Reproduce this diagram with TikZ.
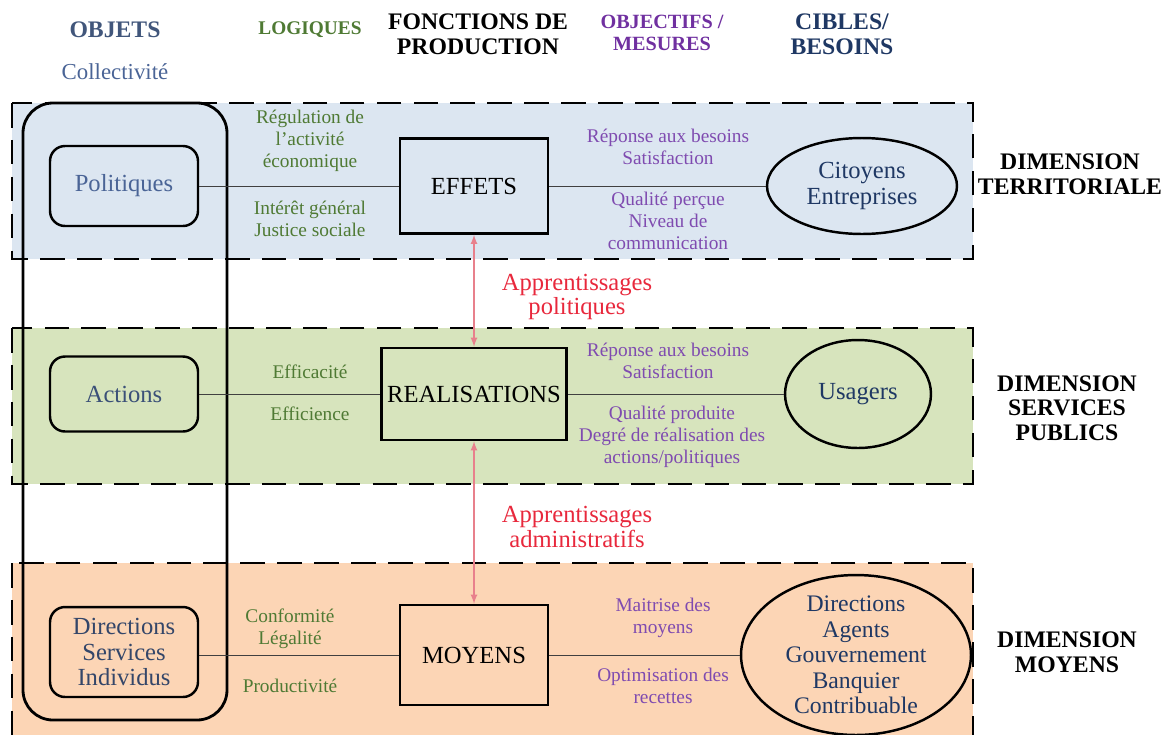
\documentclass[tikz,border=0pt]{standalone}
\usepackage{fontspec}
\setmainfont{Liberation Serif}
\usepackage{xcolor}
\usetikzlibrary{arrows}
\usetikzlibrary{positioning}
\usetikzlibrary{shapes.geometric}

\definecolor{bleuFond}{HTML}{DCE6F1}
\definecolor{vertFond}{HTML}{D7E4BD}
\definecolor{orangeFond}{HTML}{FCD5B5}
\definecolor{bleuTitre}{HTML}{1F3864}
\definecolor{bleuObjet}{HTML}{4A6496}
\definecolor{vertTexte}{HTML}{4F7A34}
\definecolor{violetTexte}{HTML}{7F4BB0}
\definecolor{violetTitre}{HTML}{7030A0}
\definecolor{rougeTexte}{HTML}{E8283C}
\definecolor{roseFleche}{HTML}{E8808C}

\begin{document}
\begin{tikzpicture}
[
	x = 0.02cm, y = -0.02cm,
	band/.style	= {dash pattern = on 14pt off 7pt, line width = 1.6pt},
	objet/.style	= {draw, rounded corners = 0.3cm, line width = 1.4pt, minimum width = 2.96cm, align = center, text = bleuObjet, font = \fontsize{14}{14.5}\selectfont},
	fonction/.style	= {draw, line width = 1.4pt, minimum width = 2.96cm, minimum height = 1.9cm, font = \fontsize{14}{14}\selectfont},
	cible/.style	= {ellipse, draw, line width = 1.4pt, inner sep = 0pt, align = center, text = bleuTitre, font = \fontsize{14}{14.5}\selectfont},
	logique/.style	= {align = center, text = vertTexte, font = \fontsize{11}{12.5}\selectfont},
	mesure/.style	= {logique, text = violetTexte},
	titre/.style	= {align = center, font = \bfseries\fontsize{13.5}{14}\selectfont},
	appr/.style	= {align = center, text = rougeTexte, font = \fontsize{14}{12.5}\selectfont},
	lien/.style	= {thin, black!75},
	fleche/.style	= {latex-latex, roseFleche, line width = 0.8pt},
]

	\useasboundingbox (0,0) rectangle (1168,734);
	\clip (0,0) rectangle (1168,734);

	% bandes
	\fill [bleuFond] (12,103) rectangle (973,259);
	\draw [band] (12,103) rectangle (973,259);
	\fill [vertFond] (12,328) rectangle (973,484);
	\draw [band] (12,328) rectangle (973,484);
	\fill [orangeFond] (12,563) rectangle (973,780);
	\draw [band] (12,563) rectangle (973,780);

	\draw [line width = 1.6pt, rounded corners = 0.6cm] (23,103) rectangle (227,720);

	% titres
	\node (tObjets) [titre, text = bleuTitre!85!white] at (115,30) {OBJETS};
	\node (tCollec) [font = \fontsize{13}{13}\selectfont, text = bleuObjet] at (115,72) {Collectivité};
	\node (tLogiques) [titre, text = vertTexte, font = \bfseries\fontsize{11}{12}\selectfont] at (310,30) {LOGIQUES};
	\node (tFonctions) [titre] at (478,34) {FONCTIONS DE\\PRODUCTION};
	\node (tMesures) [titre, text = violetTitre, font = \bfseries\fontsize{11.5}{12.5}\selectfont] at (662,33) {OBJECTIFS /\\MESURES};
	\node (tCibles) [titre, text = bleuTitre] at (842,34) {CIBLES/\\BESOINS};

	% dimension territoriale
	\node (pol) [objet, minimum height = 1.6cm] at (124,186) {Politiques};
	\node (effets) [fonction] at (474,186) {EFFETS};
	\node (citoyens) [cible, minimum width = 3.8cm, minimum height = 1.92cm] at (862,186) {Citoyens\\Entreprises};
	\node (logT1) [logique] at (310,141) {Régulation de\\l'activité\\économique};
	\node (logT2) [logique] at (310,219) {Intérêt général\\Justice sociale};
	\node (mesT1) [mesure] at (668,147) {Réponse aux besoins\\Satisfaction};
	\node (mesT2) [mesure] at (668,221) {Qualité perçue\\Niveau de\\communication};
	\node (dimT) [titre] at (1070,174) {DIMENSION\\TERRITORIALE};

	% dimension services publics
	\node (actions) [objet, minimum height = 1.5cm, text = bleuObjet!80!black] at (124,394) {Actions};
	\node (realisations) [fonction, minimum width = 3.68cm, minimum height = 1.84cm] at (474,394) {REALISATIONS};
	\node (usagers) [cible, minimum width = 2.92cm, minimum height = 2.16cm] at (858,394) {Usagers};
	\node (logS1) [logique] at (310,372) {Efficacité};
	\node (logS2) [logique] at (310,414) {Efficience};
	\node (mesS1) [mesure] at (668,361) {Réponse aux besoins\\Satisfaction};
	\node (mesS2) [mesure] at (672,437) {Qualité produite\\Degré de réalisation des\\actions/politiques};
	\node (dimS) [titre] at (1067,408) {DIMENSION\\SERVICES\\PUBLICS};

	% dimension moyens
	\node (dsi) [objet, minimum height = 1.8cm, text = bleuObjet!70!black] at (124,652) {Directions\\Services\\Individus};
	\node (moyens) [fonction, minimum height = 2cm] at (474,655) {MOYENS};
	\node (acteurs) [cible, minimum width = 4.6cm, minimum height = 3.2cm, inner ysep = -8pt, font = \fontsize{13.5}{14.5}\selectfont] at (856,655) {Directions\\Agents\\Gouvernement\\Banquier\\Contribuable};
	\node (logM1) [logique] at (290,629) {Conformité\\Légalité};
	\node (logM2) [logique] at (290,686) {Productivité};
	\node (mesM1) [mesure] at (663,618) {Maitrise des\\moyens};
	\node (mesM2) [mesure] at (663,686) {Optimisation des\\recettes};
	\node (dimM) [titre] at (1067,652) {DIMENSION\\MOYENS};

	\draw [lien] (pol) -- (effets);
	\draw [lien] (effets) -- (citoyens);
	\draw [lien] (actions) -- (realisations);
	\draw [lien] (realisations) -- (usagers);
	\draw [lien] (dsi.east |- moyens) -- (moyens);
	\draw [lien] (moyens) -- (acteurs);

	% apprentissages
	\draw [fleche] (effets) -- (realisations);
	\draw [fleche] (realisations) -- (moyens);
	\node (apprPol) [appr] at (577,297) {Apprentissages\\politiques};
	\node (apprAdm) [appr] at (577,527) {Apprentissages\\administratifs};

\end{tikzpicture}
\end{document}
